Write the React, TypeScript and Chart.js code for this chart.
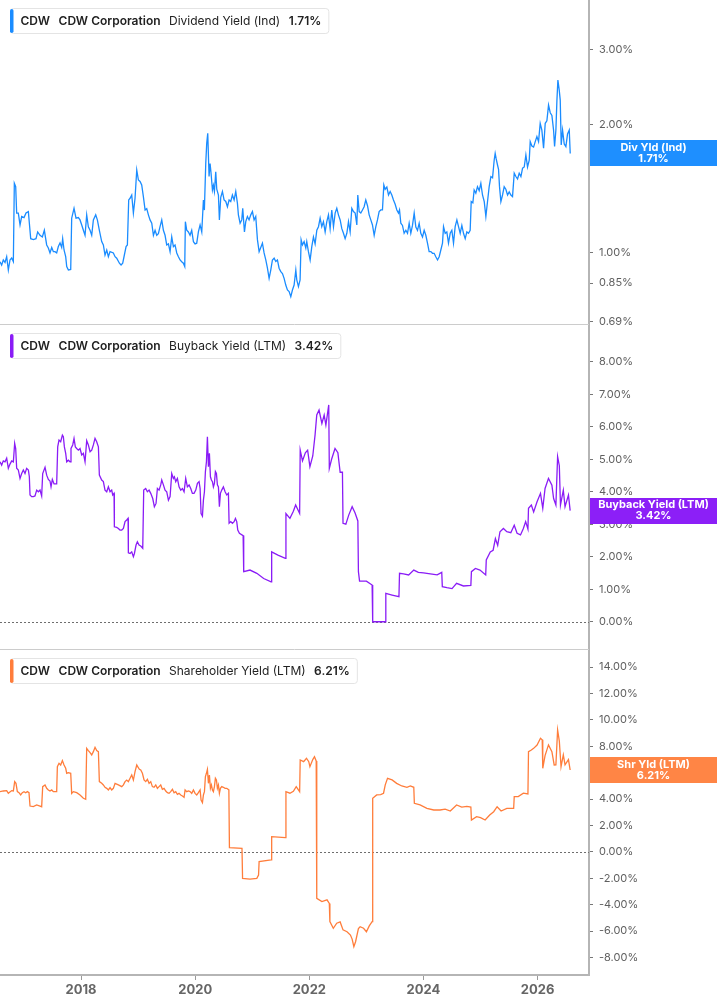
import React, { useEffect, useRef } from 'react';
import { Chart, registerables } from 'chart.js';

Chart.register(...registerables);

const FONT = "Inter, 'Noto Sans', 'DejaVu Sans', sans-serif";

const xTicks = [2018, 2020, 2022, 2024, 2026];
const divTicks = [0.69, 0.85, 1, 2, 3];
const buybackTicks = [0, 1, 2, 3, 4, 5, 6, 7, 8];
const shrTicks = [-8, -6, -4, -2, 0, 2, 4, 6, 8, 10, 12, 14];

// [decimal year, yield %]
const divYield: [number, number][] = [
  [2016.580, 0.954], [2016.609, 0.937], [2016.638, 0.963], [2016.668, 0.95], [2016.697, 0.98], [2016.726, 0.912], [2016.755, 0.963], [2016.785, 0.973], [2016.814, 0.954],
  [2016.831, 1.456], [2016.855, 1.43], [2016.872, 1.24], [2016.901, 1.24], [2016.931, 1.163], [2016.960, 1.217], [2017.001, 1.21], [2017.036, 1.24], [2017.077, 1.25], [2017.094, 1.175],
  [2017.118, 1.08], [2017.164, 1.075], [2017.211, 1.08], [2017.240, 1.12], [2017.281, 1.10], [2017.322, 1.09], [2017.357, 1.13], [2017.398, 1.044], [2017.427, 1.027], [2017.456, 1.0], [2017.486, 1.03], [2017.515, 1.007], [2017.544, 1.007], [2017.573, 1.0], [2017.602, 1.035], [2017.632, 1.055], [2017.661, 1.03], [2017.678, 1.08], [2017.702, 1.016], [2017.731, 0.98], [2017.749, 0.929], [2017.778, 0.912], [2017.819, 0.915],
  [2017.836, 1.206], [2017.877, 1.272], [2017.912, 1.206], [2017.953, 1.21], [2017.982, 1.195], [2018.012, 1.163], [2018.041, 1.13], [2018.070, 1.10], [2018.099, 1.228], [2018.128, 1.152], [2018.158, 1.13], [2018.187, 1.10], [2018.216, 1.195], [2018.257, 1.228], [2018.286, 1.195], [2018.321, 1.13], [2018.362, 1.063], [2018.391, 1.044], [2018.420, 0.989], [2018.450, 1.016], [2018.479, 0.98], [2018.508, 1.007], [2018.566, 1.0], [2018.596, 0.98], [2018.625, 0.972], [2018.672, 0.946], [2018.701, 0.937], [2018.730, 0.946], [2018.759, 0.989], [2018.789, 1.035], [2018.812, 1.044],
  [2018.835, 1.331], [2018.859, 1.343], [2018.888, 1.367], [2018.917, 1.24], [2018.946, 1.343], [2018.976, 1.564], [2019.005, 1.482], [2019.034, 1.47], [2019.063, 1.443], [2019.092, 1.355], [2019.122, 1.261], [2019.151, 1.27], [2019.180, 1.228], [2019.209, 1.195], [2019.239, 1.174], [2019.268, 1.10], [2019.297, 1.13], [2019.326, 1.10], [2019.355, 1.11], [2019.384, 1.152], [2019.414, 1.195], [2019.443, 1.13], [2019.472, 1.10], [2019.501, 1.044], [2019.531, 1.05], [2019.560, 1.007], [2019.589, 1.09], [2019.618, 1.035], [2019.647, 1.044], [2019.677, 1.0], [2019.706, 0.98], [2019.735, 0.963], [2019.764, 0.954], [2019.793, 0.946], [2019.817, 0.929],
  [2019.828, 1.184], [2019.852, 1.13], [2019.881, 1.12], [2019.910, 1.10], [2019.939, 1.13], [2019.969, 1.063], [2019.998, 1.05], [2020.027, 1.054], [2020.056, 1.12], [2020.086, 1.163], [2020.115, 1.12],
  [2020.144, 1.331], [2020.161, 1.26], [2020.185, 1.62], [2020.202, 1.806], [2020.220, 1.906], [2020.243, 1.51], [2020.261, 1.62], [2020.278, 1.537], [2020.302, 1.404], [2020.319, 1.44], [2020.337, 1.393], [2020.360, 1.55], [2020.378, 1.41], [2020.407, 1.367], [2020.424, 1.195], [2020.448, 1.35], [2020.477, 1.393], [2020.506, 1.331], [2020.536, 1.32], [2020.565, 1.283], [2020.594, 1.331], [2020.623, 1.32], [2020.652, 1.367], [2020.682, 1.331], [2020.711, 1.393], [2020.740, 1.307], [2020.757, 1.228], [2020.787, 1.174], [2020.816, 1.195], [2020.833, 1.272], [2020.863, 1.12], [2020.886, 1.184], [2020.915, 1.217], [2020.944, 1.195], [2020.974, 1.228], [2021.003, 1.25], [2021.032, 1.195], [2021.061, 1.217], [2021.091, 1.073], [2021.120, 1.007], [2021.149, 1.03], [2021.178, 1.054], [2021.207, 1.0], [2021.237, 0.963], [2021.266, 0.921], [2021.295, 0.872], [2021.324, 0.912], [2021.353, 0.963], [2021.383, 0.972], [2021.412, 0.955], [2021.441, 0.963], [2021.470, 0.921], [2021.500, 0.904], [2021.529, 0.895], [2021.558, 0.872], [2021.587, 0.841], [2021.616, 0.819], [2021.646, 0.812], [2021.675, 0.79], [2021.704, 0.819], [2021.733, 0.841], [2021.763, 0.912], [2021.780, 0.865], [2021.809, 0.834], [2021.838, 0.865],
  [2021.856, 1.073], [2021.879, 1.044], [2021.908, 1.063], [2021.938, 1.027], [2021.955, 1.063], [2021.984, 1.007], [2022.014, 0.963], [2022.043, 1.035], [2022.072, 1.09], [2022.101, 1.05], [2022.131, 1.13], [2022.160, 1.152], [2022.189, 1.206], [2022.218, 1.152], [2022.247, 1.184], [2022.277, 1.12], [2022.306, 1.184], [2022.335, 1.228], [2022.364, 1.14], [2022.393, 1.261], [2022.423, 1.152], [2022.452, 1.24], [2022.481, 1.272], [2022.510, 1.228], [2022.540, 1.195], [2022.569, 1.14], [2022.598, 1.112], [2022.627, 1.08], [2022.657, 1.112], [2022.686, 1.184], [2022.715, 1.12], [2022.744, 1.272], [2022.773, 1.25], [2022.803, 1.24], [2022.832, 1.163], [2022.849, 1.367], [2022.873, 1.25], [2022.902, 1.24], [2022.931, 1.261], [2022.960, 1.283], [2022.989, 1.331], [2023.019, 1.29], [2023.048, 1.228], [2023.077, 1.195], [2023.106, 1.163], [2023.136, 1.10], [2023.165, 1.152], [2023.194, 1.195], [2023.223, 1.25], [2023.252, 1.261], [2023.281, 1.261],
  [2023.305, 1.443], [2023.328, 1.41], [2023.358, 1.427], [2023.387, 1.367], [2023.416, 1.393], [2023.445, 1.367], [2023.474, 1.331], [2023.504, 1.30], [2023.533, 1.261], [2023.562, 1.24], [2023.580, 1.261], [2023.603, 1.174], [2023.632, 1.16], [2023.661, 1.112], [2023.691, 1.13], [2023.720, 1.112], [2023.749, 1.174], [2023.778, 1.112], [2023.807, 1.16], [2023.837, 1.24], [2023.866, 1.15], [2023.895, 1.13], [2023.924, 1.174], [2023.953, 1.112], [2023.983, 1.09], [2024.012, 1.13], [2024.041, 1.10], [2024.070, 1.054], [2024.099, 1.007], [2024.129, 1.007], [2024.158, 0.998], [2024.187, 0.998], [2024.216, 0.98], [2024.246, 0.963], [2024.275, 0.98], [2024.304, 1.016], [2024.333, 1.054], [2024.351, 1.152], [2024.380, 1.112], [2024.409, 1.12], [2024.438, 1.054], [2024.468, 1.112], [2024.497, 1.13], [2024.526, 1.054], [2024.555, 1.152], [2024.585, 1.195], [2024.614, 1.152], [2024.643, 1.112], [2024.672, 1.16], [2024.701, 1.112], [2024.731, 1.08], [2024.760, 1.12], [2024.789, 1.112], [2024.818, 1.13],
  [2024.836, 1.319], [2024.865, 1.31], [2024.888, 1.404], [2024.917, 1.38], [2024.946, 1.43], [2024.976, 1.40], [2025.005, 1.456], [2025.034, 1.367], [2025.064, 1.32], [2025.093, 1.217], [2025.122, 1.32], [2025.151, 1.43], [2025.181, 1.51], [2025.210, 1.50], [2025.239, 1.651], [2025.256, 1.71], [2025.274, 1.66], [2025.297, 1.607], [2025.315, 1.57], [2025.332, 1.43], [2025.356, 1.319], [2025.385, 1.367], [2025.414, 1.43], [2025.443, 1.41], [2025.473, 1.367], [2025.502, 1.39], [2025.531, 1.367], [2025.560, 1.355], [2025.590, 1.537], [2025.619, 1.51], [2025.648, 1.49], [2025.677, 1.537], [2025.707, 1.51], [2025.736, 1.58], [2025.765, 1.59], [2025.794, 1.696], [2025.823, 1.59], [2025.853, 1.65], [2025.870, 1.823], [2025.899, 1.78], [2025.929, 1.77], [2025.958, 1.823], [2025.987, 1.873], [2026.016, 1.823], [2026.045, 2.012], [2026.074, 1.94], [2026.104, 1.76], [2026.133, 2.012], [2026.162, 2.04], [2026.191, 2.22], [2026.221, 2.13], [2026.250, 2.10], [2026.279, 1.94], [2026.297, 1.775], [2026.320, 1.94], [2026.338, 2.28], [2026.355, 2.54], [2026.378, 2.41], [2026.396, 2.28], [2026.413, 1.79], [2026.437, 1.94], [2026.466, 1.80], [2026.495, 1.775], [2026.524, 1.90], [2026.554, 1.94], [2026.571, 1.71],
];

const buybackYield: [number, number][] = [
  [2016.580, 4.92], [2016.609, 4.82], [2016.638, 4.95], [2016.668, 4.92], [2016.697, 5.03], [2016.726, 4.72], [2016.755, 4.85], [2016.785, 4.95], [2016.814, 4.92], [2016.837, 5.49], [2016.855, 5.33], [2016.872, 4.72], [2016.901, 4.67], [2016.931, 4.41], [2016.960, 4.56], [2016.989, 4.67], [2017.018, 4.56], [2017.047, 4.72], [2017.077, 4.67], [2017.094, 4.46],
  [2017.106, 3.90], [2017.135, 3.85], [2017.164, 3.85], [2017.193, 3.87], [2017.223, 4.05], [2017.252, 4.0], [2017.281, 4.05], [2017.310, 3.87],
  [2017.328, 4.56], [2017.369, 4.75], [2017.398, 4.51], [2017.427, 4.38], [2017.456, 4.33], [2017.474, 4.15], [2017.497, 4.38], [2017.527, 4.24], [2017.573, 4.24],
  [2017.591, 5.38], [2017.614, 5.59], [2017.643, 5.54], [2017.673, 5.74], [2017.690, 5.69], [2017.708, 5.38], [2017.731, 5.18], [2017.749, 4.92], [2017.778, 4.97], [2017.807, 4.92], [2017.824, 5.33], [2017.854, 5.44], [2017.877, 5.64], [2017.900, 5.38], [2017.924, 5.33], [2017.953, 5.28], [2017.982, 5.33], [2018.012, 5.13], [2018.041, 5.18], [2018.070, 4.92], [2018.099, 5.57], [2018.128, 5.44], [2018.158, 5.23], [2018.187, 5.28], [2018.216, 5.44], [2018.245, 5.64], [2018.274, 5.54], [2018.304, 5.38],
  [2018.321, 4.51], [2018.362, 4.36], [2018.391, 4.31], [2018.420, 4.05], [2018.450, 4.0], [2018.479, 4.15], [2018.508, 4.0], [2018.537, 4.05], [2018.555, 3.90], [2018.578, 3.95],
  [2018.584, 2.92], [2018.625, 2.90], [2018.654, 2.87], [2018.683, 2.82], [2018.713, 2.82], [2018.742, 2.87], [2018.771, 3.08], [2018.800, 3.13], [2018.824, 3.18],
  [2018.829, 2.12], [2018.859, 2.10], [2018.888, 2.15], [2018.917, 2.0], [2018.935, 2.10], [2018.964, 2.36], [2018.987, 2.46], [2019.016, 2.36], [2019.046, 2.33], [2019.081, 2.26],
  [2019.098, 4.05], [2019.133, 4.10], [2019.162, 4.0], [2019.192, 4.05], [2019.221, 3.95], [2019.256, 3.79], [2019.285, 3.54], [2019.314, 3.64], [2019.338, 4.10], [2019.367, 4.05], [2019.396, 4.21], [2019.414, 4.36], [2019.443, 4.21], [2019.472, 4.05], [2019.501, 4.0], [2019.531, 3.74], [2019.560, 3.85], [2019.589, 4.56], [2019.618, 4.41], [2019.636, 4.46], [2019.659, 4.31], [2019.688, 4.41], [2019.717, 4.15], [2019.747, 4.05], [2019.776, 4.10], [2019.805, 4.0], [2019.834, 4.41], [2019.863, 4.15], [2019.893, 4.21], [2019.922, 4.10], [2019.951, 3.95], [2019.980, 3.95], [2020.010, 4.05], [2020.039, 4.26], [2020.068, 4.31], [2020.086, 4.10], [2020.103, 3.33], [2020.127, 3.25], [2020.144, 3.74], [2020.162, 4.0], [2020.179, 4.62], [2020.197, 4.92], [2020.214, 5.69], [2020.232, 4.77], [2020.249, 5.18], [2020.267, 4.46], [2020.284, 4.36], [2020.302, 4.31], [2020.319, 4.15], [2020.337, 4.26], [2020.354, 4.62], [2020.372, 4.56], [2020.389, 4.21], [2020.407, 4.15], [2020.424, 3.54], [2020.442, 3.95], [2020.465, 4.05], [2020.494, 4.15], [2020.524, 4.0], [2020.553, 3.90], [2020.582, 3.95],
  [2020.594, 3.03], [2020.623, 3.08], [2020.652, 3.03], [2020.682, 3.08], [2020.705, 3.18], [2020.728, 3.08], [2020.746, 2.82], [2020.775, 2.72], [2020.84, 2.65],
  [2020.85, 1.54], [2020.96, 1.59], [2021.08, 1.49], [2021.20, 1.33], [2021.33, 1.23],
  [2021.34, 2.15], [2021.45, 2.05], [2021.58, 1.95],
  [2021.59, 3.33], [2021.66, 3.18], [2021.72, 3.4], [2021.76, 3.59], [2021.83, 3.33],
  [2021.84, 5.28], [2021.88, 4.95], [2021.93, 5.2], [2021.97, 5.28], [2022.01, 4.77], [2022.06, 5.1], [2022.10, 5.74], [2022.13, 6.36], [2022.17, 6.51], [2022.22, 6.1], [2022.26, 6.36], [2022.29, 6.05], [2022.34, 6.67], [2022.35, 4.72], [2022.39, 5.0], [2022.45, 5.33], [2022.50, 5.2], [2022.54, 4.6], [2022.58, 4.6],
  [2022.59, 3.03], [2022.64, 3.0], [2022.69, 3.28], [2022.75, 3.54], [2022.80, 3.35], [2022.85, 3.1],
  [2022.86, 1.54], [2022.88, 1.25], [2023.00, 1.25], [2023.10, 1.13],
  [2023.11, 0.0], [2023.33, 0.0],
  [2023.34, 0.87], [2023.45, 0.82], [2023.57, 0.77],
  [2023.58, 1.49], [2023.65, 1.47], [2023.74, 1.44], [2023.83, 1.59], [2023.91, 1.52], [2024.00, 1.50], [2024.12, 1.47], [2024.24, 1.44], [2024.32, 1.52],
  [2024.33, 1.08], [2024.41, 1.05], [2024.50, 1.02], [2024.58, 1.18], [2024.70, 1.10], [2024.83, 1.12],
  [2024.84, 1.54], [2024.91, 1.64], [2024.99, 1.59], [2025.09, 1.44],
  [2025.10, 1.90], [2025.17, 2.15], [2025.22, 2.2], [2025.26, 2.56], [2025.30, 2.35], [2025.34, 2.77], [2025.40, 2.87], [2025.46, 2.77], [2025.53, 2.74], [2025.59, 2.97], [2025.64, 2.72], [2025.70, 2.67], [2025.75, 2.87], [2025.79, 3.08], [2025.83, 2.85],
  [2025.84, 3.49], [2025.89, 3.59], [2025.93, 3.38], [2025.99, 3.69], [2026.05, 3.95], [2026.09, 3.49], [2026.13, 4.10], [2026.19, 4.41], [2026.25, 4.2], [2026.28, 3.79], [2026.32, 3.59], [2026.35, 5.08], [2026.38, 4.8], [2026.40, 3.59], [2026.45, 4.05], [2026.48, 3.54], [2026.54, 3.90], [2026.57, 3.42],
];

const shrYield: [number, number][] = [
  [2016.580, 4.57], [2016.638, 4.62], [2016.697, 4.65], [2016.726, 4.44], [2016.785, 4.65], [2016.814, 4.62], [2016.837, 5.33], [2016.860, 5.20], [2016.884, 4.57], [2016.913, 4.49], [2016.942, 4.32], [2016.971, 4.49], [2017.001, 4.57], [2017.030, 4.49], [2017.059, 4.57], [2017.088, 4.49],
  [2017.106, 3.48], [2017.164, 3.43], [2017.223, 3.56], [2017.281, 3.48], [2017.310, 3.43],
  [2017.328, 4.95], [2017.369, 5.08], [2017.398, 4.82], [2017.427, 4.70], [2017.456, 4.62], [2017.486, 4.70], [2017.515, 4.57], [2017.573, 4.57],
  [2017.585, 6.46], [2017.614, 6.72], [2017.643, 6.59], [2017.673, 6.92], [2017.702, 6.59], [2017.731, 6.34], [2017.749, 5.96], [2017.778, 6.01], [2017.819, 5.96],
  [2017.836, 4.44], [2017.865, 4.57], [2017.924, 4.49], [2017.982, 4.32], [2018.041, 4.07], [2018.082, 3.99],
  [2018.099, 7.85], [2018.128, 7.68], [2018.158, 7.53], [2018.187, 7.35], [2018.216, 7.60], [2018.245, 7.93], [2018.274, 7.68], [2018.304, 7.60],
  [2018.321, 5.33], [2018.362, 5.20], [2018.391, 5.08], [2018.420, 4.90], [2018.450, 4.82], [2018.479, 4.70], [2018.508, 4.87], [2018.537, 4.70], [2018.566, 4.82], [2018.596, 5.20], [2018.654, 5.08], [2018.713, 4.95], [2018.742, 5.08], [2018.771, 5.33], [2018.800, 5.45], [2018.829, 5.33], [2018.859, 5.58], [2018.888, 5.83], [2018.917, 5.45], [2018.946, 6.08], [2018.976, 6.59], [2018.993, 6.46], [2019.022, 6.26], [2019.046, 6.21], [2019.075, 5.96], [2019.104, 5.45], [2019.133, 5.33], [2019.162, 5.50], [2019.192, 5.20], [2019.221, 5.33], [2019.250, 4.95], [2019.279, 4.90], [2019.309, 5.08], [2019.338, 4.82], [2019.367, 4.95], [2019.396, 5.08], [2019.425, 4.75], [2019.455, 4.82], [2019.484, 4.62], [2019.513, 4.49], [2019.542, 4.44], [2019.571, 4.57], [2019.601, 4.75], [2019.630, 4.49], [2019.659, 4.57], [2019.688, 4.37], [2019.717, 4.44], [2019.747, 4.32], [2019.776, 4.24], [2019.805, 4.14], [2019.823, 4.70], [2019.852, 4.57], [2019.881, 4.62], [2019.910, 4.57], [2019.939, 4.44], [2019.969, 4.70], [2019.998, 4.44], [2020.027, 4.32], [2020.056, 4.49], [2020.086, 4.70], [2020.103, 3.94], [2020.127, 3.74], [2020.144, 4.32], [2020.162, 4.57], [2020.179, 5.71], [2020.197, 5.96], [2020.214, 6.26], [2020.232, 5.20], [2020.249, 5.83], [2020.267, 4.82], [2020.284, 5.08], [2020.302, 4.70], [2020.319, 4.57], [2020.337, 4.95], [2020.354, 5.58], [2020.372, 5.45], [2020.389, 4.82], [2020.407, 5.08], [2020.424, 4.44], [2020.442, 4.82], [2020.465, 4.95], [2020.494, 4.90], [2020.524, 4.82], [2020.553, 4.82], [2020.590, 4.70],
  [2020.600, 0.33], [2020.82, 0.28],
  [2020.83, -2.0], [2020.96, -2.05], [2021.08, -2.0], [2021.11, -1.75],
  [2021.12, -0.73], [2021.33, -0.6],
  [2021.34, 1.16], [2021.58, 1.08],
  [2021.59, 4.57], [2021.66, 4.45], [2021.72, 4.6], [2021.77, 4.95], [2021.83, 4.57],
  [2021.84, 6.97], [2021.90, 6.84], [2021.95, 7.1], [2021.99, 6.84], [2022.01, 6.46], [2022.06, 7.0], [2022.09, 7.22], [2022.12, 6.9],
  [2022.13, -3.51], [2022.22, -3.76], [2022.31, -3.63], [2022.35, -3.9],
  [2022.36, -5.28], [2022.42, -5.78], [2022.48, -5.4], [2022.54, -5.3], [2022.59, -5.9], [2022.66, -6.04], [2022.72, -6.29], [2022.75, -6.6], [2022.78, -7.17], [2022.81, -6.8], [2022.86, -5.8], [2022.89, -5.66], [2022.95, -5.78], [2023.00, -6.04], [2023.05, -5.6], [2023.10, -5.28],
  [2023.11, 4.07], [2023.18, 4.32], [2023.25, 4.35], [2023.30, 4.45], [2023.33, 5.08], [2023.37, 5.58], [2023.45, 5.46], [2023.53, 5.2], [2023.62, 5.0], [2023.71, 4.9], [2023.77, 5.0], [2023.83, 4.9],
  [2023.84, 3.69], [2023.94, 3.56], [2024.06, 3.31], [2024.18, 3.18], [2024.29, 3.18], [2024.38, 3.25], [2024.47, 3.1], [2024.58, 3.56], [2024.67, 3.4], [2024.76, 3.45], [2024.83, 3.4],
  [2024.84, 2.42], [2024.93, 2.67], [2025.00, 2.6], [2025.08, 2.42], [2025.16, 2.8], [2025.23, 3.05], [2025.29, 3.43], [2025.36, 3.1], [2025.46, 3.3], [2025.58, 3.3],
  [2025.59, 4.19], [2025.66, 4.2], [2025.75, 4.45], [2025.83, 4.4],
  [2025.84, 7.60], [2025.89, 7.72], [2025.93, 7.85], [2025.99, 8.1], [2026.05, 8.61], [2026.08, 8.5], [2026.09, 6.34], [2026.13, 7.3], [2026.19, 8.11], [2026.25, 7.6], [2026.29, 6.59], [2026.32, 6.6], [2026.35, 9.24], [2026.38, 8.4], [2026.41, 6.46], [2026.45, 7.35], [2026.48, 6.6], [2026.54, 7.0], [2026.57, 6.21],
];

const BLUE = '#1a8cff';
const PURPLE = '#8a1cf6';
const ORANGE = '#ff7d3b';

const panels = [
  { axis: 'y1', color: BLUE, tagColor: '#1e8fff', metric: 'Dividend Yield (Ind)', tag: 'Div Yld (Ind)', data: divYield, zero: false },
  { axis: 'y2', color: PURPLE, tagColor: '#8c1ff7', metric: 'Buyback Yield (LTM)', tag: 'Buyback Yield (LTM)', data: buybackYield, zero: true },
  { axis: 'y3', color: ORANGE, tagColor: '#ff8545', metric: 'Shareholder Yield (LTM)', tag: 'Shr Yld (LTM)', data: shrYield, zero: true },
];

const last = (d: [number, number][]) => d[d.length - 1][1];
const pct = (v: number) => v.toFixed(2) + '%';

function drawLegend(ctx: CanvasRenderingContext2D, left: number, top: number, parts: [string, boolean][], color: string) {
  const gap = 8.5, padL = 10.5, padR = 7, h = 25;
  const fonts = parts.map(([, b]) => `${b ? 600 : 400} 12px ${FONT}`);
  const widths = parts.map(([t], i) => { ctx.font = fonts[i]; return ctx.measureText(t).width; });
  const w = padL + widths.reduce((a, b) => a + b, 0) + gap * (parts.length - 1) + padR;
  ctx.save();
  ctx.beginPath();
  ctx.roundRect(left + 0.5, top + 0.5, w, h, 3);
  ctx.fillStyle = '#fff';
  ctx.fill();
  ctx.strokeStyle = '#e4e4e4';
  ctx.lineWidth = 1;
  ctx.stroke();
  ctx.beginPath();
  ctx.roundRect(left, top + 1, 3.5, h - 1, 2);
  ctx.fillStyle = color;
  ctx.fill();
  ctx.fillStyle = '#222';
  ctx.textBaseline = 'middle';
  ctx.textAlign = 'left';
  let x = left + padL;
  parts.forEach(([t], i) => {
    ctx.font = fonts[i];
    ctx.fillText(t, x, top + h / 2 + 0.5);
    x += widths[i] + gap;
  });
  ctx.restore();
}

const overlay = {
  id: 'overlay',
  beforeDatasetsDraw(chart: any) {
    const { ctx, chartArea } = chart;
    ctx.save();
    ctx.strokeStyle = '#cccccc';
    ctx.lineWidth = 1;
    ['y2', 'y3'].forEach((id) => {
      const y = Math.round(chart.scales[id].top) - 0.5;
      ctx.beginPath();
      ctx.moveTo(chartArea.left, y);
      ctx.lineTo(chartArea.right, y);
      ctx.stroke();
    });
    ctx.setLineDash([2, 2]);
    ctx.strokeStyle = '#6e6e6e';
    panels.filter((p) => p.zero).forEach((p) => {
      const y = Math.round(chart.scales[p.axis].getPixelForValue(0)) + 0.5;
      ctx.beginPath();
      ctx.moveTo(chartArea.left, y);
      ctx.lineTo(chartArea.right, y);
      ctx.stroke();
    });
    ctx.restore();
  },
  afterDraw(chart: any) {
    const { ctx, chartArea } = chart;
    panels.forEach((p) => {
      const s = chart.scales[p.axis];
      const v = last(p.data);
      drawLegend(ctx, 10, s.top + 8, [['CDW', true], ['CDW Corporation', true], [p.metric, false], [pct(v), true]], p.color);
      const y = s.getPixelForValue(v);
      const left = chartArea.right + 1;
      const right = chart.width;
      ctx.save();
      ctx.fillStyle = p.tagColor;
      ctx.fillRect(left, Math.round(y - 13), right - left, 26);
      ctx.fillStyle = '#fff';
      ctx.font = `bold 11px ${FONT}`;
      ctx.textAlign = 'center';
      ctx.textBaseline = 'middle';
      const cx = (left + right) / 2;
      ctx.fillText(p.tag, cx, y - 5.5);
      ctx.fillText(pct(v), cx, y + 5.5);
      ctx.restore();
    });
  },
};

function yAxis(type: string, min: number, max: number, ticks: number[]) {
  return {
    type,
    min,
    max,
    position: 'right',
    stack: 'panels',
    stackWeight: 1,
    offset: false,
    afterBuildTicks: (s: any) => { s.ticks = ticks.map((value) => ({ value })); },
    afterFit: (s: any) => { s.width = 128; s.paddingTop = 0; s.paddingBottom = 0; },
    ticks: {
      callback: (v: any) => pct(Number(v)),
      color: '#5f5f5f',
      font: { family: FONT, size: 11 },
      padding: 6,
      autoSkip: false,
    },
    grid: { drawOnChartArea: false, drawTicks: true, tickLength: 4, tickColor: '#777', tickWidth: 1 },
    border: { display: true, color: '#b5b5b5', width: 2 },
  };
}

export default function App() {
  const canvasRef = useRef<HTMLCanvasElement | null>(null);
  useEffect(() => {
    if (!canvasRef.current) return;
    const c = new Chart(canvasRef.current, {
      type: 'line',
      data: {
        datasets: panels.map((p) => ({
          data: p.data.map(([x, y]) => ({ x, y })),
          yAxisID: p.axis,
          xAxisID: 'x',
          borderColor: p.color,
          borderWidth: 1.3,
          pointRadius: 0,
          tension: 0,
          fill: false,
        })),
      },
      options: {
        responsive: false,
        animation: false,
        layout: { padding: 0 },
        plugins: { legend: { display: false }, tooltip: { enabled: false } },
        events: [],
        scales: {
          x: {
            type: 'linear',
            position: 'bottom',
            min: 2016.58,
            max: 2026.9,
            afterBuildTicks: (s: any) => { s.ticks = xTicks.map((value) => ({ value })); },
            afterFit: (s: any) => { s.height = 30; s.paddingLeft = 0; s.paddingRight = 0; },
            ticks: {
              callback: (v: any) => String(v),
              color: '#666',
              font: { family: FONT, size: 13, weight: 'bold' },
              padding: 2,
              maxRotation: 0,
              autoSkip: false,
            },
            grid: { drawOnChartArea: false, drawTicks: true, tickLength: 5, tickColor: '#999' },
            border: { display: true, color: '#b5b5b5', width: 2 },
          },
          y1: yAxis('logarithmic', 0.678, 3.913, divTicks),
          y2: yAxis('linear', -0.87, 9.13, buybackTicks),
          y3: yAxis('linear', -9.32, 15.3, shrTicks),
        } as any,
      },
      plugins: [overlay as any],
    });
    return () => { c.destroy(); };
  }, []);
  return (
    <div style={{ position: 'absolute', left: 0, top: 0, width: 717, height: 1005, background: '#fff' }}>
      <canvas ref={canvasRef} width={717} height={1005} style={{ display: 'block' }} />
    </div>
  );
}
